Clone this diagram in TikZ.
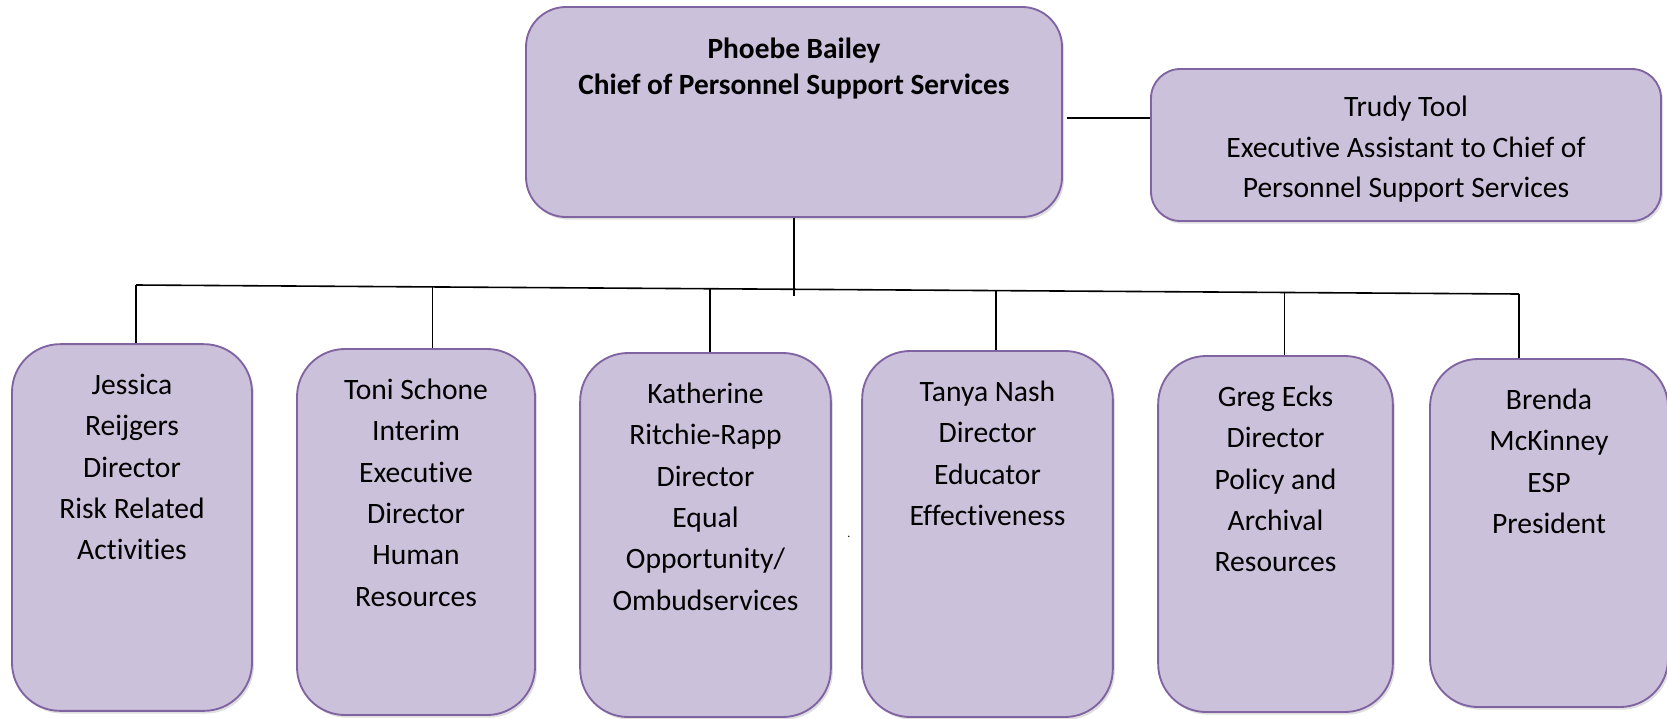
\documentclass[tikz,border=0pt]{standalone}
\usepackage{fontspec}
\setmainfont{Carlito}[Ligatures=NoCommon]
\usetikzlibrary{calc,shadows}
\begin{document}
\begin{tikzpicture}[x=0.75pt,y=0.75pt,yscale=-1,xscale=1,
  unitbox/.style={draw={rgb, 255:red, 128; green, 100; blue, 162},line width=1.4pt,fill={rgb, 255:red, 204; green, 193; blue, 218},rounded corners=#1,drop shadow={opacity=0.25,shadow xshift=1.5pt,shadow yshift=-2pt}},
  unitbox/.default=36pt,
  staff/.style={anchor=north,inner sep=0pt,align=center,font=\fontsize{22.2}{31}\selectfont},
  link/.style={line width=1.2pt,black}]
\useasboundingbox (0,0) rectangle (1667,718);
\node [unitbox=30pt,minimum width=402pt,minimum height=157.5pt] (chief) at (794,112) {};
\node [unitbox=22pt,minimum width=382.5pt,minimum height=114pt] (trudy) at (1406,145) {};
\node [unitbox,minimum width=180pt,minimum height=275pt] (jessica) at (132,527.5) {};
\node [unitbox,minimum width=178.5pt,minimum height=274.5pt] (toni) at (416,532) {};
\node [unitbox,minimum width=188pt,minimum height=273pt] (katherine) at (705.5,535) {};
\node [unitbox,minimum width=188pt,minimum height=274.5pt] (tanya) at (987.5,534) {};
\node [unitbox,minimum width=176pt,minimum height=267pt] (greg) at (1275.5,534) {};
\node [unitbox,minimum width=178.5pt,minimum height=261pt] (brenda) at (1549,533) {};
\node [staff,font=\bfseries\fontsize{22}{27}\selectfont] (chieftext) at (794,38) {Phoebe Bailey\\Chief of Personnel Support Services};
\node [staff,font=\fontsize{22.2}{30.4}\selectfont] (trudytext) at (1406,96) {Trudy Tool\\Executive Assistant to Chief of\\Personnel Support Services};
\node [staff] (jessicatext) at ([yshift=23pt]jessica.north) {Jessica\\Reijgers\\Director\\Risk Related\\Activities};
\node [staff] (tonitext) at ([yshift=23pt]toni.north) {Toni Schone\\Interim\\Executive\\Director\\Human\\Resources};
\node [staff] (katherinetext) at ([yshift=23pt]katherine.north) {Katherine\\Ritchie-Rapp\\Director\\Equal\\Opportunity/\\Ombudservices};
\node [staff] (tanyatext) at ([yshift=23pt]tanya.north) {Tanya Nash\\Director\\Educator\\Effectiveness};
\node [staff] (gregtext) at ([yshift=23pt]greg.north) {Greg Ecks\\Director\\Policy and\\Archival\\Resources};
\node [staff] (brendatext) at ([yshift=23pt]brenda.north) {Brenda\\McKinney\\ESP\\President};
\node [inner sep=0pt,font=\fontsize{9}{10}\selectfont] (dot) at (849,537) {.};
\coordinate (hub) at (794,296);
\coordinate (busL) at (136,285);
\coordinate (busR) at (1519,294);
\coordinate (d2) at ($(busL)!0.2143!(busR)$);
\coordinate (d3) at ($(busL)!0.4149!(busR)$);
\coordinate (d4) at ($(busL)!0.6220!(busR)$);
\coordinate (d5) at ($(busL)!0.8305!(busR)$);
\draw [link] ([shift={(4,6)}]chief.east) -- ([shift={(0,6)}]chief.east -| trudy.west);
\draw [link] (chief.south) -- (hub);
\draw [link] (busL) -- (busR);
\draw [link] (busL) -- (busL |- jessica.north);
\draw [link] (d2) -- (d2 |- toni.north);
\draw [link] (d3) -- (d3 |- katherine.north);
\draw [link] (d4) -- (d4 |- tanya.north);
\draw [link] (d5) -- (d5 |- greg.north);
\draw [link] (busR) -- (busR |- brenda.north);
\end{tikzpicture}
\end{document}
